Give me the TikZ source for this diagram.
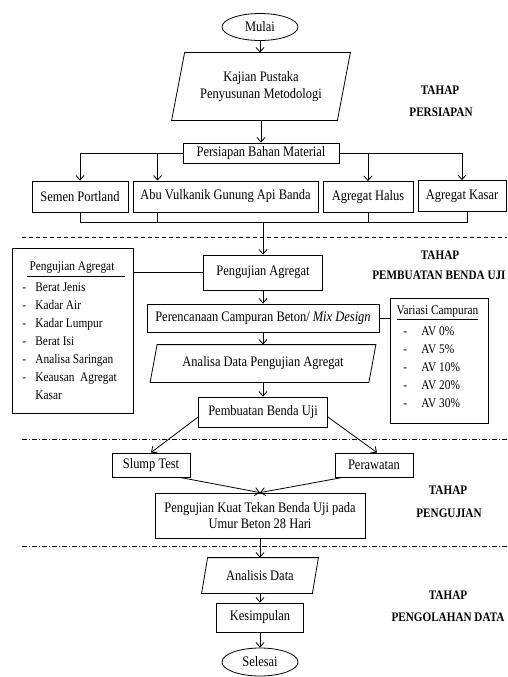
\documentclass[tikz,border=0pt]{standalone}
\usepackage{fontspec}
\setmainfont{Liberation Serif}[FakeStretch=0.86]
\usetikzlibrary{arrows.meta,shapes.geometric,calc}
\begin{document}
\begin{tikzpicture}[x=1pt,y=-1pt,
  line width=0.8pt,
  arr/.style={-{Straight Barb[length=4.5pt,width=8pt]}},
  mainfont/.style={font=\fontsize{14.5}{16}\selectfont},
  box/.style={draw, rectangle, inner sep=0pt, align=center, mainfont},
  term/.style={draw, ellipse, inner sep=0pt, mainfont},
  io/.style={rectangle, inner sep=0pt, align=center, mainfont},
  side/.style={font=\fontsize{13.2}{14}\selectfont, inner sep=0pt, anchor=base west},
  sidetitle/.style={font=\fontsize{13.2}{14}\selectfont, inner sep=0pt, anchor=base},
  stage/.style={font=\fontsize{13}{14}\selectfont\bfseries, inner sep=0pt},
  dsh/.style={dash pattern=on 4pt off 3pt},
  dshdot/.style={dash pattern=on 5pt off 2pt on 1pt off 2pt}]
\useasboundingbox (0,0) rectangle (507,677);

% ---------- main column ----------
\node[term, minimum width=76pt, minimum height=27pt] (mulai) at (260,27) {Mulai};
\node[io, minimum width=165pt, minimum height=67pt, font=\fontsize{14.5}{17}\selectfont] (kp) at (261,86.5) {Kajian Pustaka\\Penyusunan Metodologi};
\draw ($(kp.north west)+(6.5,0)$) -- ($(kp.north east)+(6.5,0)$) -- ($(kp.south east)+(-6.5,0)$) -- ($(kp.south west)+(-6.5,0)$) -- cycle;
\node[box, minimum width=156pt, minimum height=20pt] (pbm) at (261,153) {Persiapan Bahan Material};

\node[box, minimum width=96pt, minimum height=31pt] (semen) at (80,196.5) {Semen Portland};
\node[box, minimum width=185pt, minimum height=31pt] (abu) at (225.5,196.5) {Abu Vulkanik Gunung Api Banda};
\node[box, minimum width=90pt, minimum height=31pt] (halus) at (368,197) {Agregat Halus};
\node[box, minimum width=88pt, minimum height=31pt] (kasar) at (462,196) {Agregat Kasar};

\node[box, minimum width=119pt, minimum height=35pt] (pa) at (263,272.5) {Pengujian Agregat};
\node[box, minimum width=232pt, minimum height=28pt] (per) at (263,318) {Perencanaan Campuran Beton/ \textit{Mix Design}};
\node[io, minimum width=218pt, minimum height=37pt] (ad) at (263,363.5) {Analisa Data Pengujian Agregat};
\draw ($(ad.north west)+(3.5,0)$) -- ($(ad.north east)+(3.5,0)$) -- ($(ad.south east)+(-3.5,0)$) -- ($(ad.south west)+(-3.5,0)$) -- cycle;
\node[box, minimum width=129pt, minimum height=30pt] (pbu) at (263,412) {Pembuatan Benda Uji};

\node[box, minimum width=78pt, minimum height=24pt] (slump) at (151,465) {Slump Test};
\node[box, minimum width=78pt, minimum height=24pt] (rawat) at (374,465) {Perawatan};
\node[box, minimum width=210pt, minimum height=45pt] (pkt) at (260,515.5) {Pengujian Kuat Tekan Benda Uji pada\\Umur Beton 28 Hari};
\node[io, minimum width=110pt, minimum height=35pt] (an) at (260,575.5) {Analisis Data};
\draw ($(an.north west)+(3,0)$) -- ($(an.north east)+(3,0)$) -- ($(an.south east)+(-3,0)$) -- ($(an.south west)+(-3,0)$) -- cycle;
\node[box, minimum width=87pt, minimum height=29pt] (kes) at (260,617.5) {Kesimpulan};
\node[term, minimum width=76pt, minimum height=28pt] (sel) at (260,662) {Selesai};

% ---------- side boxes ----------
\node[draw, rectangle, inner sep=0pt, minimum width=121pt, minimum height=165pt] (pal) at (72.5,330.5) {};
\node[sidetitle] (palt) at (72,270) {Pengujian Agregat};
\draw (27,276) -- (125,276);
\foreach \y/\t in {291/Berat Jenis,309/Kadar Air,327/Kadar Lumpur,345/Berat Isi,363/Analisa Saringan,381/Keausan\ \ Agregat}{
  \node[side] at (22,\y) {-};
  \node[side] at (35,\y) {\t};
}
\node[side] at (35,399) {Kasar};

\node[draw, rectangle, inner sep=0pt, minimum width=98pt, minimum height=125pt] (var) at (439,360.5) {};
\node[sidetitle] (vart) at (437.5,314) {Variasi Campuran};
\draw (397,319) -- (478,319);
\foreach \y/\t in {335/AV 0\%,353/AV 5\%,371/AV 10\%,389/AV 20\%,407/AV 30\%}{
  \node[side] at (403,\y) {-};
  \node[side] at (421,\y) {\t};
}

% ---------- stage labels ----------
\node[stage] at (440,90) {TAHAP};
\node[stage] at (441,112) {PERSIAPAN};
\node[stage] at (440,255) {TAHAP};
\node[stage, anchor=west] at (372,275) {PEMBUATAN BENDA UJI};
\node[stage] at (448,490) {TAHAP};
\node[stage] at (449,513) {PENGUJIAN};
\node[stage] at (448,595) {TAHAP};
\node[stage] at (448,617) {PENGOLAHAN DATA};

% ---------- separators ----------
\draw[dsh] (22,237) -- (507,237);
\draw[dshdot] (22,439) -- (507,439);
\draw[dshdot] (22,546) -- (507,546);

% ---------- connectors ----------
\draw[arr] (mulai.south) -- (mulai.south |- kp.north);
\draw[arr] (kp.south) -- (kp.south |- pbm.north);

\coordinate (abuin) at ([xshift=25pt]abu.north west);
\coordinate (abuout) at ([xshift=25pt]abu.south west);
\coordinate (kasarout) at ([xshift=5pt]kasar.south);
\coordinate (col) at (263,222);

\draw (pbm.west) -- (semen.north |- pbm.west);
\draw (pbm.east) -- (kasar.north |- pbm.east);
\draw[arr] (semen.north |- pbm.west) -- (semen.north);
\draw[arr] (abuin |- pbm.west) -- (abuin);
\draw[arr] (halus.north |- pbm.east) -- (halus.north);
\draw[arr] (kasar.north |- pbm.east) -- (kasar.north);

\draw (semen.south) -- (semen.south |- col) -- (kasarout |- col) -- (kasarout);
\draw (abuout) -- (abuout |- col);
\draw (halus.south) -- (halus.south |- col);
\draw[arr] (col) -- (col |- pa.north);

\draw (pal.east |- pa.west) -- (pa.west);
\draw[arr] (pa) -- (per);
\draw (per.east) -- (per.east -| var.west);
\draw[arr] (per) -- (ad);
\draw[arr] (ad) -- (pbu);

\draw[arr] ([yshift=-5pt]pbu.west) -- (slump.north);
\draw[arr] ([yshift=-5pt]pbu.east) -- ([xshift=3pt]rawat.north);
\draw[arr] ([xshift=29pt]slump.south) -- (pkt.north);
\draw[arr] ([xshift=-31pt]rawat.south) -- (pkt.north);

\draw[arr] (pkt) -- (an);
\draw[arr] (an.south) -- (an.south |- kes.north);
\draw[arr] (kes.south) -- (kes.south |- sel.north);
\end{tikzpicture}
\end{document}
